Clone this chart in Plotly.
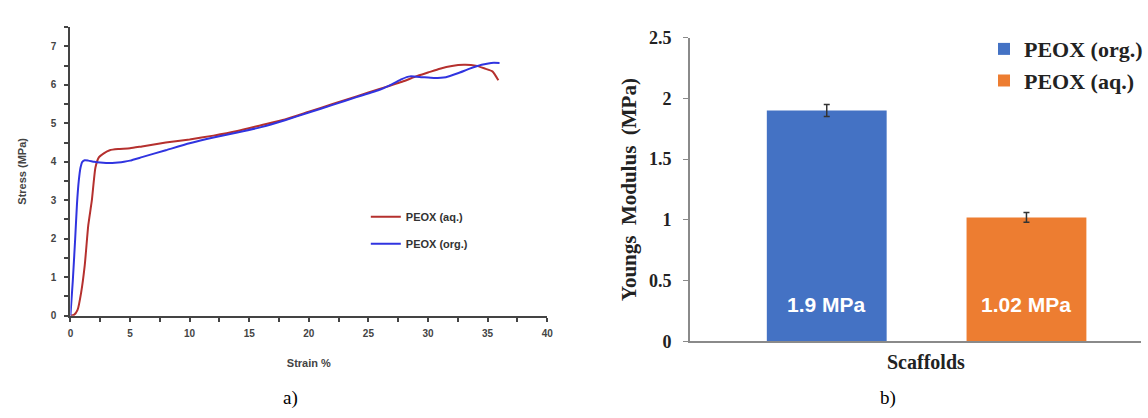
import plotly.graph_objects as go

# ---------------- data ----------------
strain_aq = [0, 0.3, 0.6, 0.9, 1.2, 1.5, 1.8, 2.1, 2.4, 2.8, 3.3, 4, 5, 6, 7, 8, 10, 12, 14, 16, 18,
             20, 22, 24, 26, 28, 29, 30, 31, 32, 33, 34, 34.8, 35.4, 35.9]
stress_aq = [0, 0.02, 0.15, 0.6, 1.3, 2.35, 3.0, 3.85, 4.12, 4.22, 4.3, 4.33, 4.35, 4.4, 4.45, 4.5,
             4.58, 4.68, 4.8, 4.95, 5.1, 5.3, 5.5, 5.7, 5.9, 6.1, 6.22, 6.32, 6.42, 6.49, 6.52, 6.5,
             6.42, 6.35, 6.12]

strain_org = [0, 0.2, 0.4, 0.55, 0.7, 0.85, 1.0, 1.2, 1.5, 2.0, 2.5, 3, 3.5, 4, 4.5, 5, 6, 8, 10,
              12, 14, 16, 18, 20, 22, 24, 26, 27, 27.8, 28.5, 29.5, 30.5, 31.5, 32.5, 33.5, 34.5,
              35.3, 36]
stress_org = [0, 0.9, 2.0, 2.9, 3.5, 3.85, 4.0, 4.04, 4.03, 4.0, 3.98, 3.97, 3.97, 3.98, 4.0, 4.03,
              4.12, 4.3, 4.48, 4.63, 4.76, 4.9, 5.08, 5.28, 5.48, 5.68, 5.88, 6.02, 6.15, 6.22, 6.2,
              6.18, 6.2, 6.3, 6.42, 6.52, 6.57, 6.57]

scaffold_cat = ["Scaffolds"]
bar_names = ["PEOX (org.)", "PEOX (aq.)"]
modulus = [1.9, 1.02]
modulus_err = [0.05, 0.04]
bar_colors = ["#4472C4", "#ED7D31"]

# ---------------- layout helpers ----------------
W, H = 1148, 418
def px(x):
    return x / W
def py(y):
    return 1 - y / H

SANS = "Liberation Sans, Arial, sans-serif"
SERIF = "Liberation Serif, Times New Roman, serif"
BARGAP = 0.156
BARGROUPGAP = 0.4

fig = go.Figure()

# left panel: stress-strain curves
fig.add_trace(go.Scatter(
    x=strain_aq, y=stress_aq, mode="lines", name="PEOX (aq.)",
    line=dict(color="#B5302E", width=2, shape="spline", smoothing=0.5),
    xaxis="x", yaxis="y", legend="legend", legendgroup="aq"))
fig.add_trace(go.Scatter(
    x=strain_org, y=stress_org, mode="lines", name="PEOX (org.)",
    line=dict(color="#3034E0", width=2, shape="spline", smoothing=0.5),
    xaxis="x", yaxis="y", legend="legend", legendgroup="org"))

# right panel: bars
for i in range(len(bar_names)):
    fig.add_trace(go.Bar(
        x=scaffold_cat, y=[modulus[i]], name=bar_names[i],
        marker=dict(color=bar_colors[i], line=dict(width=0)),
        error_y=dict(type="data", array=[modulus_err[i]], color="#333333", thickness=1.5, width=3),
        xaxis="x2", yaxis="y2", legend="legend2", legendgroup=f"b{i}"))

# bar value labels
half = (1 - BARGAP) / 4
for i in range(len(bar_names)):
    off = -half if i == 0 else half
    fig.add_annotation(
        x=off, y=0, xref="x2", yref="y2", yshift=37, showarrow=False,
        xanchor="center", yanchor="middle",
        text=f"{modulus[i]} MPa", font=dict(family=SANS, size=21, color="white", weight="bold"))

axis_font_left = dict(family=SANS, size=10, color="#444444", weight="bold")

fig.update_layout(
    autosize=True,
    margin=dict(l=0, r=0, t=0, b=0),
    paper_bgcolor="white", plot_bgcolor="white",
    barmode="group", bargap=BARGAP, bargroupgap=BARGROUPGAP,
    xaxis=dict(
        domain=[px(68), px(549)], range=[0, 40], dtick=5, tick0=0,
        ticks="outside", ticklen=4, tickwidth=1.5, tickcolor="#444444",
        minor=dict(dtick=2.5, ticks="outside", ticklen=4, tickwidth=1.5, tickcolor="#444444"),
        showline=True, linecolor="#444444", linewidth=2, showgrid=False, zeroline=False,
        tickfont=axis_font_left, ticklabelstandoff=3,
        title=dict(text="Strain %", font=dict(family=SANS, size=11, color="#444444", weight="bold"), standoff=22),
        anchor="y"),
    yaxis=dict(
        domain=[py(321), py(18)], range=[0, 7.5], dtick=1, tick0=0,
        ticks="outside", ticklen=4, tickwidth=1.5, tickcolor="#444444",
        minor=dict(dtick=0.5, ticks="outside", ticklen=4, tickwidth=1.5, tickcolor="#444444"),
        showline=True, linecolor="#444444", linewidth=2, showgrid=False, zeroline=False,
        tickfont=axis_font_left, ticklabelstandoff=6,
        title=dict(text="Stress (MPa)", font=dict(family=SANS, size=11, color="#444444", weight="bold"), standoff=22),
        anchor="x"),
    xaxis2=dict(
        domain=[px(693), 1.0], type="category", range=[-0.5, 0.453],
        showticklabels=False, ticks="", showline=True, linecolor="#8a8a8a", linewidth=1.5,
        showgrid=False, zeroline=False, anchor="y2"),
    yaxis2=dict(
        domain=[py(348), py(29)], range=[0, 2.5], dtick=0.5, tick0=0,
        ticks="outside", ticklen=5, tickwidth=1.2, tickcolor="#8a8a8a",
        showline=True, linecolor="#8a8a8a", linewidth=1.5, showgrid=False, zeroline=False,
        tickfont=dict(family=SERIF, size=18, color="#222222", weight="bold"),
        ticklabelstandoff=8,
        title=dict(text="Youngs  Modulus  (MPa)", font=dict(family=SERIF, size=21, color="#222222", weight="bold"), standoff=7),
        anchor="x2"),
    legend=dict(
        x=px(366), y=py(202), xanchor="left", yanchor="top",
        font=dict(family=SANS, size=11, color="#333333", weight="bold"),
        bgcolor="rgba(0,0,0,0)", tracegroupgap=8),
    legend2=dict(
        x=px(990), y=py(19), xanchor="left", yanchor="top",
        font=dict(family=SERIF, size=22, color="#222222", weight="bold"),
        bgcolor="rgba(0,0,0,0)", tracegroupgap=0),
    showlegend=True,
)

# x-axis title of the bar panel
fig.add_annotation(x=px(931), y=py(370), xref="paper", yref="paper", showarrow=False,
                   xanchor="center", yanchor="middle",
                   text="Scaffolds", font=dict(family=SERIF, size=20, color="#222222", weight="bold"))

# panel labels
fig.add_annotation(x=px(290), y=py(407), xref="paper", yref="paper", showarrow=False,
                   xanchor="center", yanchor="middle",
                   text="a)", font=dict(family=SERIF, size=19, color="black"))
fig.add_annotation(x=px(893), y=py(407), xref="paper", yref="paper", showarrow=False,
                   xanchor="center", yanchor="middle",
                   text="b)", font=dict(family=SERIF, size=19, color="black"))

fig.write_html(
    "out.html",
    config={"displayModeBar": False, "responsive": True},
    default_width="100vw",
    default_height="100vh",
    post_script=(
        "document.documentElement.style.margin='0';"
        "document.body.style.margin='0';"
        "document.body.style.overflow='hidden';"
        "Plotly.Plots.resize(document.getElementById('{plot_id}'));"
    ),
)
